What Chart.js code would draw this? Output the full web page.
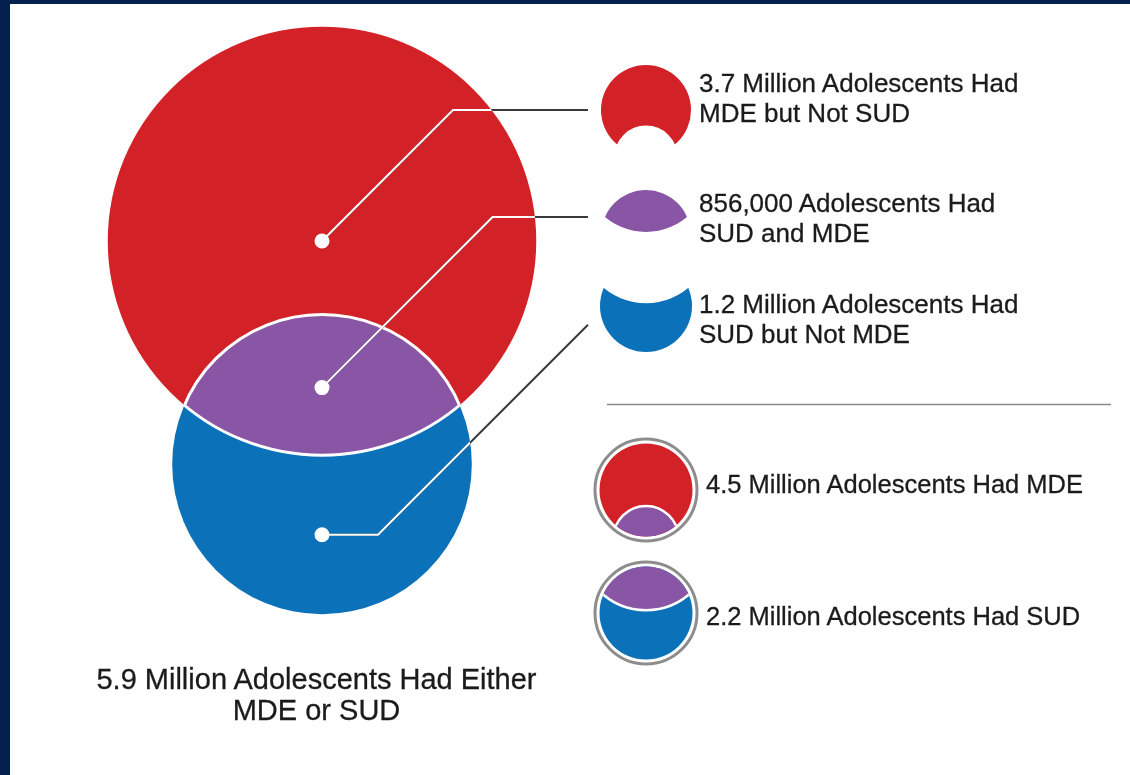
<!DOCTYPE html>
<html lang="en">
<head>
<meta charset="UTF-8">
<title>Adolescents with MDE or SUD</title>
<script src="https://cdn.jsdelivr.net/npm/chart.js@4.4.0/dist/chart.umd.min.js"></script>
<style>
  html, body { margin: 0; padding: 0; }
  body {
    width: 1130px; height: 775px; position: relative; overflow: hidden;
    background: #03204e;
    font-family: 'Liberation Sans', Arial, sans-serif; color: #1b1b1b;
  }
  .panel { position: absolute; left: 10px; top: 4px; right: 0; bottom: 0; background: #fff; }
  #venn { position: absolute; left: 0; top: 0; }
  .lbl { position: absolute; left: 699px; font-size: 26px; line-height: 30px; white-space: nowrap; -webkit-text-stroke: 0.3px #1b1b1b; }
  .lbl.set { left: 706px; font-size: 25.5px; }
  .total { position: absolute; left: 0; width: 633px; top: 664px; text-align: center; font-size: 29px; line-height: 31px; -webkit-text-stroke: 0.3px #1b1b1b; }
</style>
</head>
<body>
<div class="panel"></div>
<canvas id="venn" width="1130" height="775"></canvas>
<div id="labels"></div>

<script>
// data (millions of adolescents)
const regionNames = ['MDE but Not SUD', 'SUD and MDE', 'SUD but Not MDE'];
const regionCounts = ['3.7 Million', '856,000', '1.2 Million'];
const regionValues = [3.7, 0.856, 1.2];
const setNames = ['MDE', 'SUD'];
const setValues = [4.5, 2.2];
const eitherValue = 5.9;

const colors = { red: '#d22228', purple: '#8955a5', blue: '#0b71b8', ring: '#8d8d8d', lead: '#3a3a3a' };

// layout
const W = 1130, H = 775;
const PX = 101;             // pixels per unit, unit = sqrt(million)
const VENN_X = 322, VENN_Y = 241;
const LEAD_END = 588;

// circle radii from the set sizes (area ~ value)
const rRed = Math.sqrt(setValues[0]);
const rBlue = Math.sqrt(setValues[1]);

function segArea(r, a) {
  return r * r * Math.acos(a / r) - a * Math.sqrt(r * r - a * a);
}
function lensArea(d) {
  const a1 = (d * d + rRed * rRed - rBlue * rBlue) / (2 * d);
  return segArea(rRed, a1) + segArea(rBlue, d - a1);
}
// centre distance so the overlap matches the SUD and MDE group
let lo = rRed - rBlue + 1e-6, hi = rRed + rBlue - 1e-6;
for (let k = 0; k < 60; k++) {
  const mid = (lo + hi) / 2;
  if (lensArea(mid) > Math.PI * regionValues[1]) lo = mid; else hi = mid;
}
const dist = (lo + hi) / 2;
const a1 = (dist * dist + rRed * rRed - rBlue * rBlue) / (2 * dist);
const halfChord = Math.sqrt(rRed * rRed - a1 * a1);

// lens centroid (y, units below red centre)
const segR = segArea(rRed, a1), segB = segArea(rBlue, dist - a1);
const cR = 2 * Math.pow(halfChord, 3) / (3 * segR);
const cB = dist - 2 * Math.pow(halfChord, 3) / (3 * segB);
const lensY = (segR * cR + segB * cB) / (segR + segB);

const dots = [
  { x: 0, y: 0 },
  { x: 0, y: lensY },
  { x: 0, y: (rRed + dist + rBlue) / 2 }
];

// text
const labelTops = [68, 188, 289];
const setTops = [469, 601];
let html = '';
regionNames.forEach((n, i) => {
  html += `<div class="lbl" style="top:${labelTops[i]}px">${regionCounts[i]} Adolescents Had<br>${n}</div>`;
});
setNames.forEach((n, i) => {
  html += `<div class="lbl set" style="top:${setTops[i]}px">${setValues[i]} Million Adolescents Had ${n}</div>`;
});
html += `<div class="total">${eitherValue} Million Adolescents Had Either<br>MDE or SUD</div>`;
document.getElementById('labels').innerHTML = html;

function circle(ctx, x, y, r) {
  ctx.beginPath();
  ctx.arc(x, y, r, 0, Math.PI * 2);
}

// small legend glyph: the two circles scaled around an anchor
function drawIcon(ctx, cx, cy, ay, s, kind) {
  const ry = cy + (0 - ay) * s, by = cy + (dist - ay) * s;
  const rr = rRed * s, br = rBlue * s;
  ctx.save();
  if (kind === 'redOnly') {
    ctx.beginPath(); ctx.rect(0, 0, W, H); ctx.arc(cx, by, br, 0, Math.PI * 2); ctx.clip('evenodd');
    ctx.fillStyle = colors.red; circle(ctx, cx, ry, rr); ctx.fill();
  } else if (kind === 'blueOnly') {
    ctx.beginPath(); ctx.rect(0, 0, W, H); ctx.arc(cx, ry, rr, 0, Math.PI * 2); ctx.clip('evenodd');
    ctx.fillStyle = colors.blue; circle(ctx, cx, by, br); ctx.fill();
  } else if (kind === 'both') {
    circle(ctx, cx, ry, rr); ctx.clip();
    ctx.fillStyle = colors.purple; circle(ctx, cx, by, br); ctx.fill();
  } else {
    const mainY = kind === 'mde' ? ry : by, mainR = kind === 'mde' ? rr : br;
    ctx.strokeStyle = colors.ring; ctx.lineWidth = 3;
    circle(ctx, cx, mainY, 51); ctx.stroke();
    ctx.fillStyle = kind === 'mde' ? colors.red : colors.blue;
    circle(ctx, cx, mainY, mainR); ctx.fill();
    circle(ctx, cx, mainY, mainR); ctx.clip();
    if (kind === 'mde') {
      ctx.fillStyle = colors.purple; circle(ctx, cx, by, br); ctx.fill();
      ctx.strokeStyle = '#fff'; ctx.lineWidth = 2.5; circle(ctx, cx, by, br); ctx.stroke();
    } else {
      ctx.fillStyle = colors.purple; circle(ctx, cx, ry, rr); ctx.fill();
      ctx.strokeStyle = '#fff'; ctx.lineWidth = 2.5; circle(ctx, cx, ry, rr); ctx.stroke();
    }
  }
  ctx.restore();
}

const vennPlugin = {
  id: 'venn',
  beforeDatasetsDraw(chart) {
    const ctx = chart.ctx;
    const xs = chart.scales.x, ys = chart.scales.y;
    const k = xs.getPixelForValue(1) - xs.getPixelForValue(0);
    const cx = xs.getPixelForValue(0);
    const ry = ys.getPixelForValue(0), by = ys.getPixelForValue(dist);
    const rr = rRed * k, br = rBlue * k;

    ctx.save();
    ctx.fillStyle = colors.red; circle(ctx, cx, ry, rr); ctx.fill();
    ctx.fillStyle = colors.blue; circle(ctx, cx, by, br); ctx.fill();

    // overlap
    ctx.save();
    circle(ctx, cx, ry, rr); ctx.clip();
    ctx.fillStyle = colors.purple; circle(ctx, cx, by, br); ctx.fill();
    ctx.strokeStyle = '#fff'; ctx.lineWidth = 3; circle(ctx, cx, by, br); ctx.stroke();
    ctx.restore();
    ctx.save();
    circle(ctx, cx, by, br); ctx.clip();
    ctx.strokeStyle = '#fff'; ctx.lineWidth = 3; circle(ctx, cx, ry, rr); ctx.stroke();
    ctx.restore();

    // leader lines
    const iconY = [110, 217];
    const paths = dots.map((d, i) => {
      const x0 = xs.getPixelForValue(d.x), y0 = ys.getPixelForValue(d.y);
      if (i < 2) {
        const ex = x0 + (y0 - iconY[i]);
        return [[x0, y0], [ex, iconY[i]], [LEAD_END, iconY[i]]];
      }
      const fx = x0 + 56;
      return [[x0, y0], [fx, y0], [LEAD_END, y0 - (LEAD_END - fx)]];
    });
    const strokeLeads = () => {
      paths.forEach(p => {
        ctx.beginPath();
        ctx.moveTo(p[0][0], p[0][1]);
        p.slice(1).forEach(q => ctx.lineTo(q[0], q[1]));
        ctx.stroke();
      });
    };
    ctx.lineWidth = 2;
    ctx.lineJoin = 'miter';
    ctx.strokeStyle = colors.lead;
    strokeLeads();
    ctx.save();
    ctx.beginPath();
    ctx.arc(cx, ry, rr, 0, Math.PI * 2);
    ctx.moveTo(cx + br, by);
    ctx.arc(cx, by, br, 0, Math.PI * 2);
    ctx.clip();
    ctx.strokeStyle = '#fff';
    strokeLeads();
    ctx.restore();

    // legend glyphs
    drawIcon(ctx, 646, 110, 0, 45 / rRed, 'redOnly');
    drawIcon(ctx, 646, 217, a1, 41 / halfChord, 'both');
    drawIcon(ctx, 646, 306, dist, 46 / rBlue, 'blueOnly');
    drawIcon(ctx, 646, 490, 0, 46.5 / rRed, 'mde');
    drawIcon(ctx, 646, 613, dist, 46.5 / rBlue, 'sud');

    // separator
    ctx.strokeStyle = '#8a8a8a';
    ctx.lineWidth = 1.5;
    ctx.beginPath();
    ctx.moveTo(607, 404.5);
    ctx.lineTo(1111, 404.5);
    ctx.stroke();
    ctx.restore();
  }
};

new Chart(document.getElementById('venn'), {
  type: 'scatter',
  data: {
    datasets: [{
      data: dots,
      pointRadius: 7.5,
      pointHoverRadius: 7.5,
      pointBackgroundColor: '#fff',
      pointBorderWidth: 0
    }]
  },
  options: {
    responsive: false,
    animation: false,
    events: [],
    layout: { padding: 0, autoPadding: false },
    scales: {
      x: { type: 'linear', display: false, min: -VENN_X / PX, max: (W - VENN_X) / PX },
      y: { type: 'linear', display: false, reverse: true, min: -VENN_Y / PX, max: (H - VENN_Y) / PX }
    },
    plugins: { legend: { display: false }, tooltip: { enabled: false } }
  },
  plugins: [vennPlugin]
});
</script>
</body>
</html>
